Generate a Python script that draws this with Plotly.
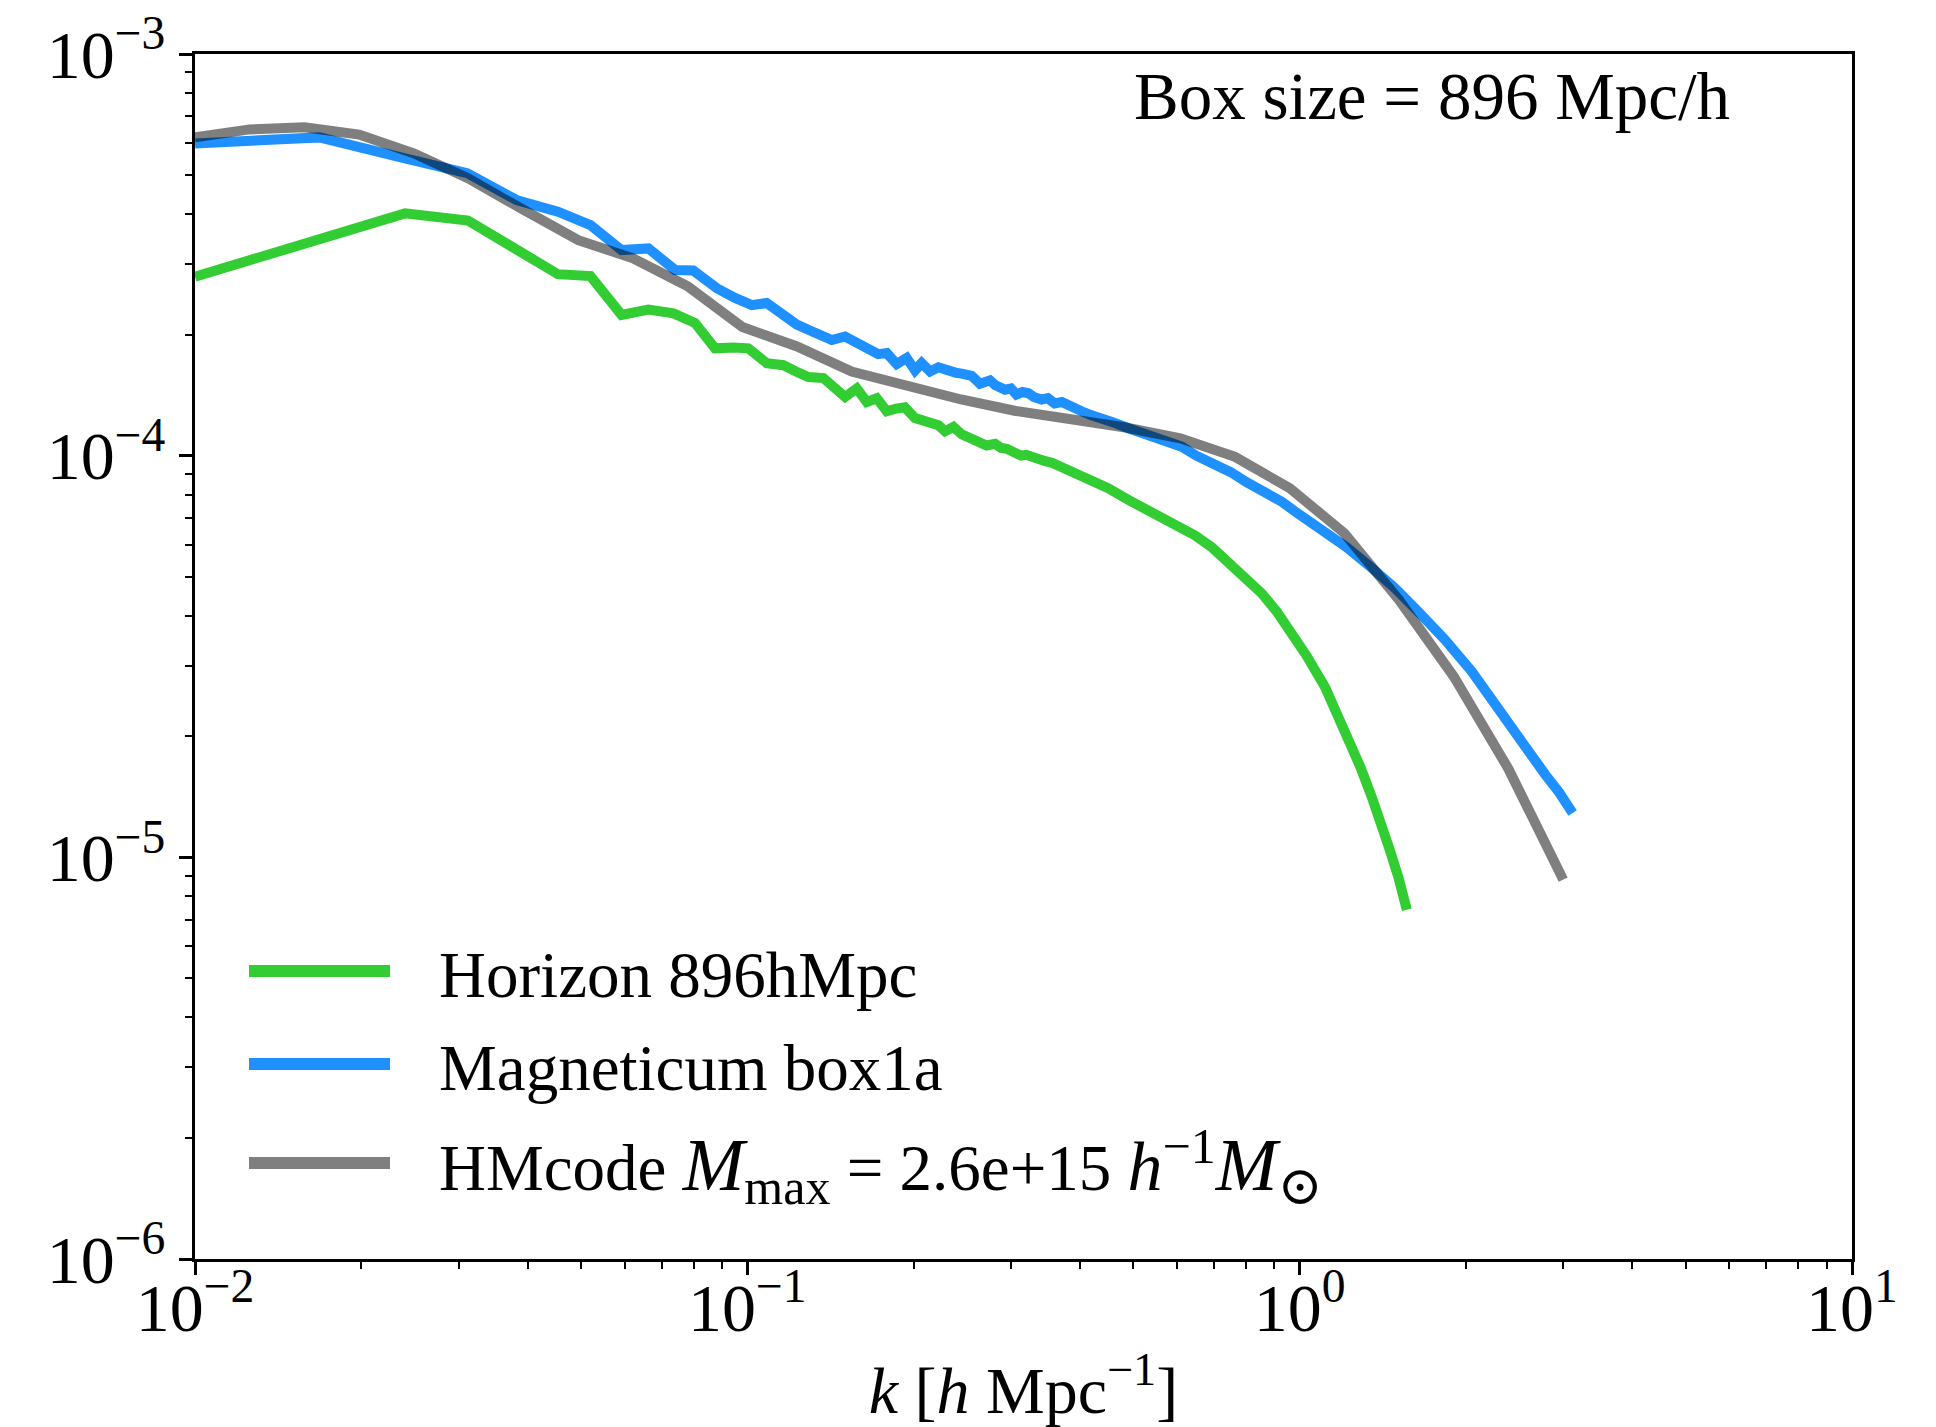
import plotly.graph_objects as go

# Horizon 896 h^-1 Mpc run
k_horizon = [0.0100, 0.0168, 0.0240, 0.0312, 0.0388, 0.0454, 0.0520, 0.0592, 0.0662, 0.0735,
             0.0804, 0.0874, 0.0945, 0.1004, 0.1084, 0.1162, 0.1225, 0.1290, 0.1373, 0.1441,
             0.1503, 0.1578, 0.1645, 0.1715, 0.1788, 0.1860, 0.1929, 0.2012, 0.2080, 0.2150,
             0.2218, 0.2280, 0.2361, 0.2444, 0.2510, 0.2584, 0.2650, 0.2712, 0.2809, 0.2880,
             0.2950, 0.3053, 0.3130, 0.3200, 0.3280, 0.3364, 0.3450, 0.3560, 0.3660, 0.3761,
             0.3900, 0.4060, 0.4263, 0.4500, 0.4897, 0.5250, 0.5625, 0.6050, 0.6465, 0.6950,
             0.7431, 0.7854, 0.8537, 0.9100, 0.9620, 1.030, 1.112, 1.180, 1.225, 1.290,
             1.350, 1.405, 1.457, 1.510, 1.563]
p_horizon = [2.79e-4, 3.46e-4, 4.01e-4, 3.85e-4, 3.25e-4, 2.83e-4, 2.80e-4, 2.24e-4, 2.31e-4, 2.26e-4,
             2.14e-4, 1.85e-4, 1.86e-4, 1.85e-4, 1.70e-4, 1.68e-4, 1.62e-4, 1.57e-4, 1.56e-4, 1.48e-4,
             1.40e-4, 1.47e-4, 1.36e-4, 1.39e-4, 1.29e-4, 1.31e-4, 1.32e-4, 1.24e-4, 1.22e-4, 1.20e-4,
             1.19e-4, 1.15e-4, 1.18e-4, 1.13e-4, 1.11e-4, 1.09e-4, 1.08e-4, 1.06e-4, 1.07e-4, 1.045e-4,
             1.04e-4, 1.014e-4, 1.00e-4, 1.005e-4, 9.9e-5, 9.85e-5, 9.7e-5, 9.6e-5, 9.45e-5, 9.3e-5,
             9.1e-5, 8.9e-5, 8.61e-5, 8.3e-5, 7.76e-5, 7.4e-5, 7.05e-5, 6.7e-5, 6.33e-5, 5.9e-5,
             5.45e-5, 5.10e-5, 4.54e-5, 4.08e-5, 3.66e-5, 3.17e-5, 2.65e-5, 2.22e-5, 1.96e-5, 1.67e-5,
             1.416e-5, 1.22e-5, 1.04e-5, 8.9e-6, 7.4e-6]

# Magneticum box1a
k_magneticum = [0.0100, 0.0168, 0.0240, 0.0311, 0.0382, 0.0454, 0.0520, 0.0592, 0.0662, 0.0740,
                0.0798, 0.0881, 0.0950, 0.1019, 0.1084, 0.1154, 0.1229, 0.1308, 0.1365, 0.1422,
                0.1503, 0.1589, 0.1656, 0.1726, 0.1788, 0.1864, 0.1943, 0.2012, 0.2068, 0.2142,
                0.2218, 0.2312, 0.2380, 0.2444, 0.2548, 0.2638, 0.2750, 0.2809, 0.2928, 0.3000,
                0.3070, 0.3150, 0.3228, 0.3300, 0.3411, 0.3500, 0.3600, 0.3710, 0.3850, 0.4029,
                0.4200, 0.4378, 0.4600, 0.4897, 0.5200, 0.5470, 0.5800, 0.6116, 0.6500, 0.7029,
                0.7500, 0.8000, 0.8600, 0.9279, 0.9811, 1.066, 1.140, 1.215, 1.330, 1.488,
                1.650, 1.833, 2.050, 2.290, 2.520, 2.781, 2.950, 3.120]
p_magneticum = [5.99e-4, 6.20e-4, 5.50e-4, 5.05e-4, 4.33e-4, 4.05e-4, 3.75e-4, 3.25e-4, 3.28e-4, 2.90e-4,
                2.89e-4, 2.61e-4, 2.47e-4, 2.37e-4, 2.40e-4, 2.24e-4, 2.12e-4, 2.04e-4, 1.99e-4, 1.94e-4,
                1.98e-4, 1.90e-4, 1.86e-4, 1.79e-4, 1.80e-4, 1.69e-4, 1.75e-4, 1.63e-4, 1.70e-4, 1.62e-4,
                1.66e-4, 1.62e-4, 1.61e-4, 1.60e-4, 1.58e-4, 1.51e-4, 1.54e-4, 1.50e-4, 1.46e-4, 1.47e-4,
                1.42e-4, 1.44e-4, 1.43e-4, 1.40e-4, 1.38e-4, 1.39e-4, 1.35e-4, 1.36e-4, 1.32e-4, 1.29e-4,
                1.26e-4, 1.24e-4, 1.21e-4, 1.17e-4, 1.14e-4, 1.115e-4, 1.08e-4, 1.053e-4, 1.00e-4, 9.57e-5,
                9.1e-5, 8.6e-5, 8.15e-5, 7.68e-5, 7.26e-5, 6.75e-5, 6.35e-5, 5.92e-5, 5.35e-5, 4.68e-5,
                4.05e-5, 3.48e-5, 2.90e-5, 2.33e-5, 1.95e-5, 1.61e-5, 1.45e-5, 1.29e-5]

# HMcode prediction
k_hmcode = [0.01000, 0.01256, 0.01578, 0.01982, 0.02489, 0.03126, 0.03936, 0.04943, 0.06209, 0.07798,
            0.09795, 0.1230, 0.1545, 0.1941, 0.2438, 0.3062, 0.3855, 0.4842, 0.6081, 0.7638,
            0.9594, 1.205, 1.514, 1.901, 2.388, 3.000]
p_hmcode = [6.20e-4, 6.49e-4, 6.57e-4, 6.30e-4, 5.66e-4, 4.90e-4, 4.09e-4, 3.44e-4, 3.10e-4, 2.64e-4,
            2.09e-4, 1.87e-4, 1.62e-4, 1.486e-4, 1.38e-4, 1.292e-4, 1.24e-4, 1.175e-4, 1.105e-4, 9.93e-5,
            8.30e-5, 6.41e-5, 4.37e-5, 2.82e-5, 1.66e-5, 8.8e-6]

MATH_M = '<span style="font-size:74px"><i>M</i></span>'
series_names = [
    "Horizon 896hMpc",
    "Magneticum box1a",
    "HMcode " + MATH_M + '<sub><span style="font-size:50px">max</span></sub> = 2.6e+15 '
    '<span style="font-size:70px"><i>h</i></span><sup><span style="font-size:50px">\u22121</span></sup>'
    + MATH_M + '<sub><span style="font-size:54px">\u2299</span></sub>',
]
series_colors = ["#32CD32", "#1E90FF", "rgba(0,0,0,0.5)"]

xtick_vals = [1e-2, 1e-1, 1e0, 1e1]
xtick_text = ["10<sup>\u22122</sup>", "10<sup>\u22121</sup>", "10<sup>0</sup>", "10<sup>1</sup>"]
ytick_vals = [1e-6, 1e-5, 1e-4, 1e-3]
ytick_text = ["10<sup>\u22126</sup>", "10<sup>\u22125</sup>", "10<sup>\u22124</sup>", "10<sup>\u22123</sup>"]
box_label = "Box size = 896 Mpc/h"

FONT = "Liberation Serif, Times New Roman, DejaVu Serif, serif"
W, H = 1936, 1427
L, R, T, B = 195, 84, 54, 168
PW, PH = W - L - R, H - T - B


def px_to_paper(x, y):
    return (x - L) / PW, 1 - (y - T) / PH


minor_x = [m * 10.0 ** e for e in (-2, -1, 0) for m in range(2, 10)]
minor_y = [m * 10.0 ** e for e in (-6, -5, -4) for m in range(2, 10)]

fig = go.Figure()
for kk, pp, name, col in zip([k_horizon, k_magneticum, k_hmcode],
                             [p_horizon, p_magneticum, p_hmcode],
                             series_names, series_colors):
    fig.add_trace(go.Scatter(x=kk, y=pp, mode="lines", name=name,
                             line=dict(color=col, width=10), showlegend=False))

axis_common = dict(
    type="log", showgrid=False, zeroline=False,
    showline=True, linewidth=3, linecolor="black", mirror=True,
    ticks="outside", ticklen=13, tickwidth=2.5, tickcolor="black",
    tickfont=dict(family=FONT, size=68, color="black"),
)
fig.update_xaxes(range=[-2, 1], tickmode="array", tickvals=xtick_vals, ticktext=xtick_text,
                 ticklabelstandoff=-26,
                 minor=dict(tickmode="array", tickvals=minor_x, ticks="outside", ticklen=7,
                            tickwidth=2, tickcolor="black", showgrid=False),
                 title=dict(text="<i>k</i> [<i>h</i> Mpc<sup>\u22121</sup>]",
                            font=dict(family=FONT, size=66, color="black"), standoff=30),
                 **axis_common)
fig.update_yaxes(range=[-6, -3], tickmode="array", tickvals=ytick_vals, ticktext=ytick_text,
                 minor=dict(tickmode="array", tickvals=minor_y, ticks="outside", ticklen=7,
                            tickwidth=2, tickcolor="black", showgrid=False),
                 **axis_common)

# legend: handle lines and labels
legend_rows = [971, 1064, 1163]
for yy, name, col in zip(legend_rows, series_names, series_colors):
    x0, y0 = px_to_paper(249, yy)
    x1, _ = px_to_paper(390, yy)
    fig.add_shape(type="line", xref="paper", yref="paper", x0=x0, x1=x1, y0=y0, y1=y0,
                  line=dict(color=col, width=12))
    tx, ty = px_to_paper(437, yy + 4)
    fig.add_annotation(text=name, xref="paper", yref="paper", x=tx, y=ty,
                       xanchor="left", yanchor="middle", showarrow=False,
                       font=dict(family=FONT, size=65, color="black"))

bx, by = px_to_paper(1732, 96)
fig.add_annotation(text=box_label, xref="paper", yref="paper", x=bx, y=by,
                   xanchor="right", yanchor="middle", showarrow=False,
                   font=dict(family=FONT, size=67, color="black"))

fig.update_layout(width=W, height=H, margin=dict(l=L, r=R, t=T, b=B, autoexpand=False),
                  paper_bgcolor="white", plot_bgcolor="white", showlegend=False,
                  font=dict(family=FONT, color="black"))

fig.write_html("out.html")
